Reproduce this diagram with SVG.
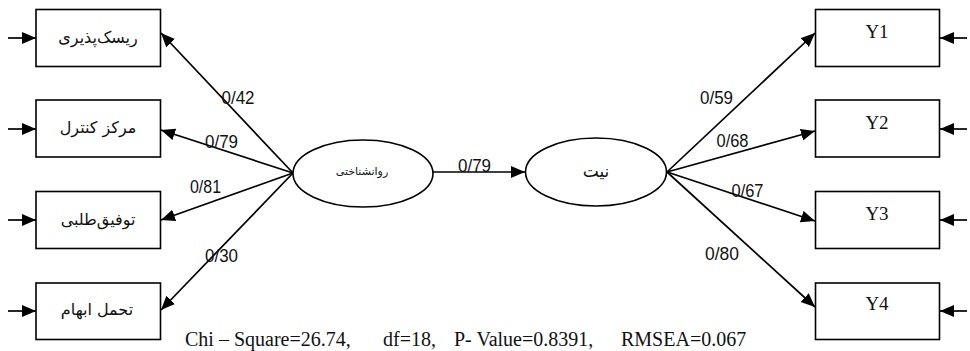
<svg xmlns="http://www.w3.org/2000/svg" width="970" height="351" viewBox="0 0 970 351">
<style>
.box{fill:#fff;stroke:#000;stroke-width:1.6}
.ell{fill:#fff;stroke:#000;stroke-width:1.6}
.ln{stroke:#000;stroke-width:1.7;fill:none;marker-end:url(#ah)}
.fa{font-family:"DejaVu Sans","Noto Sans",sans-serif;fill:#111;text-anchor:middle}
.num{font-family:"Liberation Sans",Arial,sans-serif;font-size:19px;fill:#111}
.tm{font-family:"Liberation Serif","Times New Roman",serif;fill:#111}
</style>
<defs>
<marker id="ah" markerUnits="userSpaceOnUse" markerWidth="15" markerHeight="13" refX="14" refY="6" orient="auto">
<path d="M0,0 L14,6 L0,12 z" fill="#000"/>
</marker>
</defs>
<g id="connectors">
<line class="ln" x1="8" y1="38" x2="36" y2="38"/>
<line class="ln" x1="8" y1="129" x2="36" y2="129"/>
<line class="ln" x1="8" y1="220" x2="36" y2="220"/>
<line class="ln" x1="8" y1="311" x2="36" y2="311"/>
<line class="ln" x1="967" y1="38" x2="940" y2="38"/>
<line class="ln" x1="967" y1="129" x2="940" y2="129"/>
<line class="ln" x1="967" y1="220" x2="940" y2="220"/>
<line class="ln" x1="967" y1="311" x2="940" y2="311"/>
<line class="ln" x1="293" y1="173" x2="161" y2="33"/>
<line class="ln" x1="293" y1="173" x2="161" y2="130"/>
<line class="ln" x1="293" y1="173" x2="161" y2="220"/>
<line class="ln" x1="293" y1="173" x2="161" y2="310"/>
<line class="ln" x1="433" y1="172" x2="525" y2="172"/>
<line class="ln" x1="667" y1="172" x2="815" y2="33"/>
<line class="ln" x1="667" y1="172" x2="815" y2="131"/>
<line class="ln" x1="667" y1="172" x2="815" y2="221"/>
<line class="ln" x1="667" y1="172" x2="815" y2="307"/>
<text class="num" x="221.5" y="104" textLength="33" lengthAdjust="spacingAndGlyphs">0/42</text>
<text class="num" x="205" y="148" textLength="33" lengthAdjust="spacingAndGlyphs">0/79</text>
<text class="num" x="190" y="192.5" textLength="31" lengthAdjust="spacingAndGlyphs">0/81</text>
<text class="num" x="205" y="261.5" textLength="33" lengthAdjust="spacingAndGlyphs">0/30</text>
<text class="num" x="458" y="171.5" textLength="33" lengthAdjust="spacingAndGlyphs">0/79</text>
<text class="num" x="700" y="104" textLength="33" lengthAdjust="spacingAndGlyphs">0/59</text>
<text class="num" x="716.5" y="146.5" textLength="32" lengthAdjust="spacingAndGlyphs">0/68</text>
<text class="num" x="731.5" y="196.5" textLength="32" lengthAdjust="spacingAndGlyphs">0/67</text>
<text class="num" x="705" y="259.5" textLength="34" lengthAdjust="spacingAndGlyphs">0/80</text>
</g>
<g id="n1"><rect class="box" x="36" y="9.5" width="124.5" height="57"/><text class="fa" x="98" y="43" font-size="16">ریسک‌پذیری</text></g>
<g id="n2"><rect class="box" x="36" y="100" width="124.5" height="57"/><text class="fa" x="98" y="133" font-size="16">مرکز کنترل</text></g>
<g id="n3"><rect class="box" x="36" y="191.5" width="124.5" height="57"/><text class="fa" x="98" y="225" font-size="16">توفیق‌طلبی</text></g>
<g id="n4"><rect class="box" x="36" y="283" width="124.5" height="56.5"/><text class="fa" x="97" y="315" font-size="16">تحمل ابهام</text></g>
<g id="e1"><ellipse class="ell" cx="363" cy="173.5" rx="70" ry="33.5"/><text class="fa" x="362" y="175" font-size="11">روانشناختی</text></g>
<g id="e2"><ellipse class="ell" cx="596" cy="172" rx="70.5" ry="34"/><text class="fa" x="596" y="177" font-size="17">نیت</text></g>
<g id="y1"><rect class="box" x="815.5" y="9.5" width="124" height="57"/><text class="tm" x="877" y="37.5" font-size="19" text-anchor="middle">Y1</text></g>
<g id="y2"><rect class="box" x="815.5" y="100" width="124" height="57"/><text class="tm" x="877" y="128.5" font-size="19" text-anchor="middle">Y2</text></g>
<g id="y3"><rect class="box" x="815.5" y="191.5" width="124" height="57"/><text class="tm" x="877" y="220" font-size="19" text-anchor="middle">Y3</text></g>
<g id="y4"><rect class="box" x="815.5" y="283" width="124" height="56.5"/><text class="tm" x="877" y="310" font-size="19" text-anchor="middle">Y4</text></g>
<text class="tm" y="346" font-size="20"><tspan x="185">Chi – Square=26.74,</tspan><tspan x="383">df=18,</tspan><tspan x="454">P- Value=0.8391,</tspan><tspan x="621">RMSEA=0.067</tspan></text>
</svg>
